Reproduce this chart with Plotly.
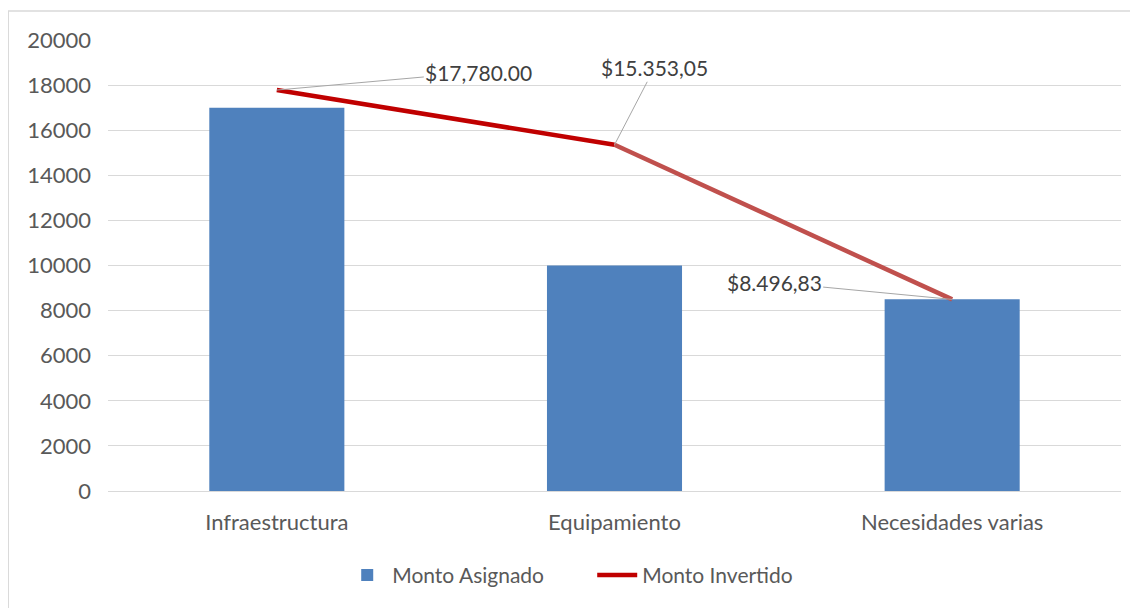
import plotly.graph_objects as go

categories = ["Infraestructura", "Equipamiento", "Necesidades varias"]
monto_asignado = [17000, 10000, 8500]
monto_invertido = [17780.00, 15353.05, 8496.83]
invertido_labels = ["$17,780.00", "$15.353,05", "$8.496,83"]
y_ticks = list(range(0, 20001, 2000))

FONT = "Lato, 'Open Sans', sans-serif"
TXT = "#595959"

fig = go.Figure()
fig.add_trace(go.Bar(
    x=categories, y=monto_asignado, name="Monto Asignado",
    marker=dict(color="#4F81BD", line=dict(width=0)),
))
# line drawn in two segments (second segment lighter red, as in the reference)
fig.add_trace(go.Scatter(
    x=categories[:2], y=monto_invertido[:2], name="Monto Invertido",
    mode="lines", line=dict(color="#C00000", width=4.5),
))
fig.add_trace(go.Scatter(
    x=categories[1:], y=monto_invertido[1:], name="Monto Invertido",
    mode="lines", line=dict(color="#C0504D", width=4.5), showlegend=False,
))

offsets = [(202, -18), (40, -77), (-178, -17)]
for cat, val, lab, (ax, ay) in zip(categories, monto_invertido, invertido_labels, offsets):
    fig.add_annotation(
        x=cat, y=val, text=lab, showarrow=True, arrowhead=0, arrowwidth=1,
        arrowcolor="#A6A6A6", ax=ax, ay=ay,
        font=dict(family=FONT, size=21, color="#404040"),
    )

# chart border
fig.add_shape(type="rect", xref="paper", yref="paper",
              x0=-0.0985, x1=1.05, y0=-0.3, y1=1.0644,
              line=dict(color="#D9D9D9", width=1.5), fillcolor="rgba(0,0,0,0)", layer="below")

fig.update_layout(
    width=1130, height=600,
    margin=dict(l=100, r=17, t=32, b=110),
    paper_bgcolor="white", plot_bgcolor="white",
    bargap=0.6,
    font=dict(family=FONT, size=22, color=TXT),
    showlegend=True,
    legend=dict(orientation="h", x=0.478, xanchor="center", y=-0.187, yanchor="middle",
                font=dict(family=FONT, size=21, color=TXT), itemwidth=40,
                entrywidth=195, traceorder="normal"),
)
fig.update_xaxes(showgrid=False, showline=True, linecolor="#D9D9D9", linewidth=1,
                 ticks="", ticklabelstandoff=12, tickfont=dict(size=22, color=TXT))
fig.update_yaxes(range=[0, 20000], tickvals=y_ticks, ticktext=[str(v) for v in y_ticks],
                 showgrid=True, gridcolor="#D9D9D9",
                 gridwidth=1, zeroline=False, showline=False, ticks="",
                 ticklabelstandoff=16, tickfont=dict(size=22, color=TXT))

fig.write_html("out.html")
